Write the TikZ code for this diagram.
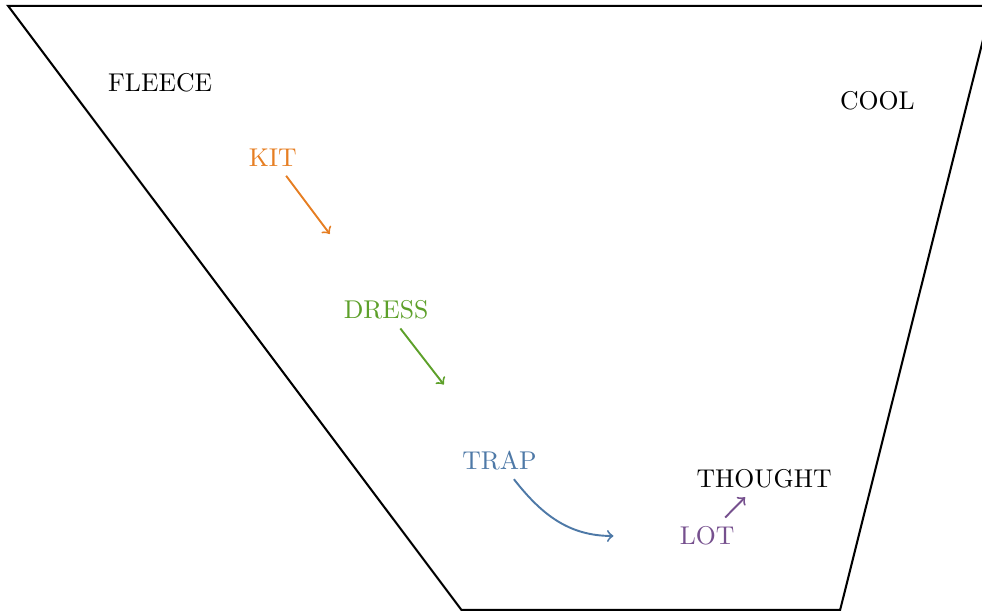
\documentclass[tikz,border=0pt]{standalone}
\usepackage{xcolor}
\usepackage{tikz}
\usetikzlibrary{positioning}
\definecolor{kitorange}{HTML}{E67E22}
\definecolor{dressgreen}{HTML}{5DA02A}
\definecolor{trapblue}{HTML}{4E79A7}
\definecolor{lotpurple}{HTML}{76508E}
\tikzset
{
    word/.style    = {align=center},
    flow/.style    = {->, line width=0.75pt},
    border/.style  = {thick, line join=miter}
}

\begin{document}
\begin{tikzpicture}
    \clip (0,0) rectangle (13.43,8.37);
    \draw [border] (0.11,8.29) -- (13.56,8.29) -- (11.49,0.03) -- (6.31,0.03) -- cycle;

    \node [word] (fleece) at (2.19,7.24) {FLEECE};
    \node [word] (cool) at (12.00,6.99) {COOL};
    \node [word, text=kitorange] (kit) at (3.73,6.21) {KIT};
    \node [word, text=dressgreen] (dress) at (5.28,4.13) {DRESS};
    \node [word, text=trapblue] (trap) at (6.83,2.07) {TRAP};
    \node [word] (thought) at (10.45,1.82) {THOUGHT};
    \node [word, text=lotpurple] (lot) at (9.67,1.04) {LOT};

    \coordinate (kitend) at (4.51,5.17);
    \coordinate (dressend) at (6.07,3.11);
    \coordinate (trapend) at (8.39,1.04);
    \coordinate (lotend) at (10.19,1.57);

    \draw [flow, kitorange] (kit) -- (kitend);
    \draw [flow, dressgreen] (dress) -- (dressend);
    \draw [flow, trapblue] (trap) to [out=-52, in=180] (trapend);
    \draw [flow, lotpurple] (lot) -- (lotend);
\end{tikzpicture}
\end{document}
